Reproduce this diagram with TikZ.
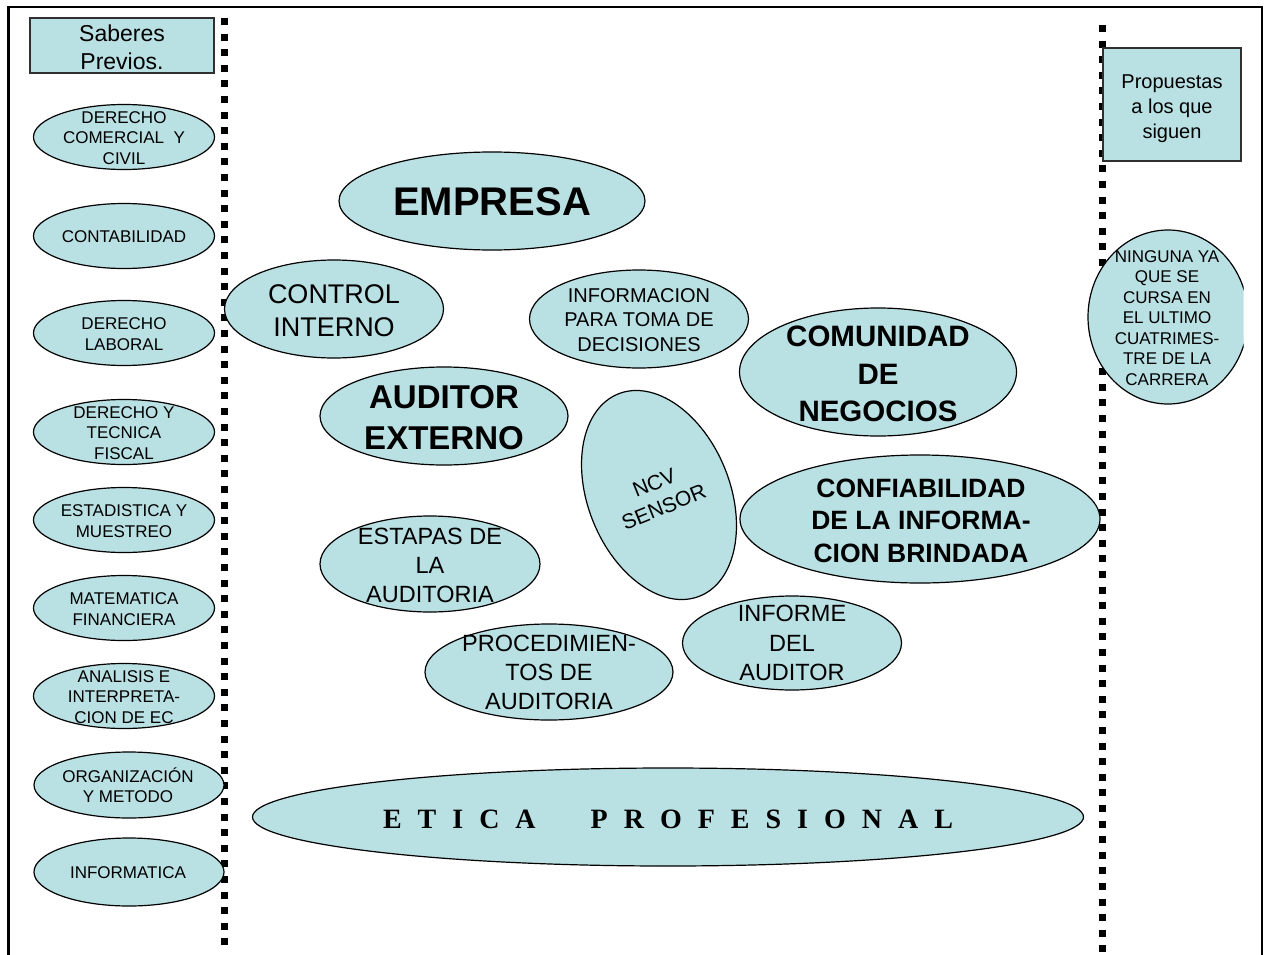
\documentclass[tikz,border=0pt]{standalone}
\usepackage{fontspec}
\setmainfont{Liberation Sans}
\newfontfamily\tnr{Liberation Serif}
\usetikzlibrary{shapes.geometric}
\definecolor{tealfill}{HTML}{B9E0E3}
\definecolor{boxline}{HTML}{303030}
\newcommand\fs[2]{\fontsize{#1}{#2}\selectfont}
\newcommand\lsp{\hspace{16pt}}
\begin{document}
\begin{tikzpicture}[x=1pt,y=-1pt,
  ell/.style={ellipse, draw=black, line width=1.2pt, fill=tealfill, inner sep=0pt},
  sbox/.style={rectangle, draw=boxline, line width=1.1pt, fill=tealfill, inner sep=0pt},
  lbl/.style={align=center, inner sep=0pt, text=black},
  small/.style={lbl, font=\fs{17}{20.5}},
  dotline/.style={line width=7pt, dash pattern=on 7pt off 8.6pt},
  frame/.style={line width=2.6pt}]
\useasboundingbox (0,0) rectangle (1268,955);
\fill[white] (0,0) rectangle (1268,955);
% outer frame
\coordinate (fa) at (8.7,955);
\coordinate (fb) at (8.7,7);
\coordinate (fc) at (1262,7);
\coordinate (fd) at (1262,955);
\draw[frame] (fa) -- (fb) -- (fc) -- (fd);
% dotted separators
\coordinate (la) at (224.5,18);
\coordinate (lb) at (224.5,952);
\coordinate (ra) at (1102.5,25);
\coordinate (rb) at (1102.5,952);
\draw[dotline] (la) -- (lb);
\draw[dotline] (ra) -- (rb);

% header boxes
\node[sbox, minimum width=184pt, minimum height=55pt] (sab) at (122,45.5) {};
\node[lbl, font=\fs{23}{28}] (sabt) at (122,47.5) {Saberes\\Previos.};
\node[sbox, minimum width=138pt, minimum height=113pt] (prop) at (1172,104.5) {};
\node[lbl, font=\fs{20}{25}] (propt) at (1172,108.5) {Propuestas\\a los que\\siguen};

% left column
\node[ell, minimum width=181pt, minimum height=65pt] (e1) at (124,137) {};
\node[small] (e1t) at (124,138) {DERECHO\\COMERCIAL\ \ Y\\CIVIL};
\node[ell, minimum width=181pt, minimum height=65pt] (e2) at (124,236) {};
\node[small] (e2t) at (124,237) {CONTABILIDAD};
\node[ell, minimum width=181pt, minimum height=65pt] (e3) at (124,333) {};
\node[small] (e3t) at (124,334) {DERECHO\\LABORAL};
\node[ell, minimum width=181pt, minimum height=65pt] (e4) at (124,432) {};
\node[small] (e4t) at (124,433) {DERECHO Y\\TECNICA\\FISCAL};
\node[ell, minimum width=181pt, minimum height=65pt] (e5) at (124,520) {};
\node[small] (e5t) at (124,521) {ESTADISTICA Y\\MUESTREO};
\node[ell, minimum width=181pt, minimum height=65pt] (e6) at (124,608) {};
\node[small] (e6t) at (124,609) {MATEMATICA\\FINANCIERA};
\node[ell, minimum width=181pt, minimum height=65pt] (e7) at (124,696) {};
\node[small] (e7t) at (124,697) {ANALISIS E\\INTERPRETA-\\CION DE EC};
\node[ell, minimum width=190pt, minimum height=66pt] (e8) at (129,785) {};
\node[small] (e8t) at (128,785) {ORGANIZACIÓN\\Y METODO};
\node[ell, minimum width=190pt, minimum height=68pt] (e9) at (129,872) {};
\node[small] (e9t) at (128,873) {INFORMATICA};

% right column circle (cut at the slide edge)
\begin{scope}
\clip (1080,200) rectangle (1243.5,420);
\node[ell, minimum width=160pt, minimum height=174pt] (nin) at (1168,317) {};
\end{scope}
\node[small] (nint) at (1167,318) {NINGUNA YA\\QUE SE\\CURSA EN\\EL ULTIMO\\CUATRIMES-\\TRE DE LA\\CARRERA};

% centre
\node[ell, minimum width=306pt, minimum height=98pt] (emp) at (492,201) {};
\node[lbl, font=\bfseries\fs{40}{44}] (empt) at (492,202) {EMPRESA};
\node[ell, minimum width=219pt, minimum height=98pt] (ci) at (334,309) {};
\node[lbl, font=\fs{27}{33}] (cit) at (334,311) {CONTROL\\INTERNO};
\node[ell, minimum width=219pt, minimum height=98pt] (inf) at (639,319) {};
\node[lbl, font=\fs{20}{24.5}] (inft) at (639,320) {INFORMACION\\PARA TOMA DE\\DECISIONES};
\node[ell, minimum width=277pt, minimum height=128pt] (com) at (878,372) {};
\node[lbl, font=\bfseries\fs{29.5}{37.5}] (comt) at (878,374) {COMUNIDAD\\DE\\NEGOCIOS};
\node[ell, minimum width=248pt, minimum height=98pt] (aud) at (444,416) {};
\node[lbl, font=\bfseries\fs{33}{41}] (audt) at (444,417.5) {AUDITOR\\EXTERNO};
\node[ell, minimum width=142pt, minimum height=218pt, rotate=22] (ncv) at (659,495) {};
\node[lbl, font=\fs{21}{26}, rotate=22] (ncvt) at (ncv.center) {NCV\\SENSOR};
\node[ell, minimum width=360pt, minimum height=128pt] (conf) at (920,519) {};
\node[lbl, font=\bfseries\fs{26.5}{32.5}] (conft) at (921,520.5) {CONFIABILIDAD\\DE LA INFORMA-\\CION BRINDADA};
\node[ell, minimum width=220pt, minimum height=96pt] (est) at (430,564) {};
\node[lbl, font=\fs{23.5}{29}] (estt) at (430,565) {ESTAPAS DE\\LA\\AUDITORIA};
\node[ell, minimum width=219pt, minimum height=94pt] (infa) at (792,643) {};
\node[lbl, font=\fs{23.5}{29.5}] (infat) at (792,643) {INFORME\\DEL\\AUDITOR};
\node[ell, minimum width=248pt, minimum height=96pt] (proc) at (549,672) {};
\node[lbl, font=\fs{23.5}{29}] (proct) at (549,672) {PROCEDIMIEN-\\TOS DE\\AUDITORIA};
\node[ell, minimum width=831pt, minimum height=98pt] (etica) at (668,817) {};
\node[lbl, font=\tnr\bfseries\fs{28}{30}] (eticat) at (668,819) {E\lsp T\lsp I\lsp C\lsp A\hspace{55pt}P\lsp R\lsp O\lsp F\lsp E\lsp S\lsp I\lsp O\lsp N\lsp A\lsp L};
\end{tikzpicture}
\end{document}
